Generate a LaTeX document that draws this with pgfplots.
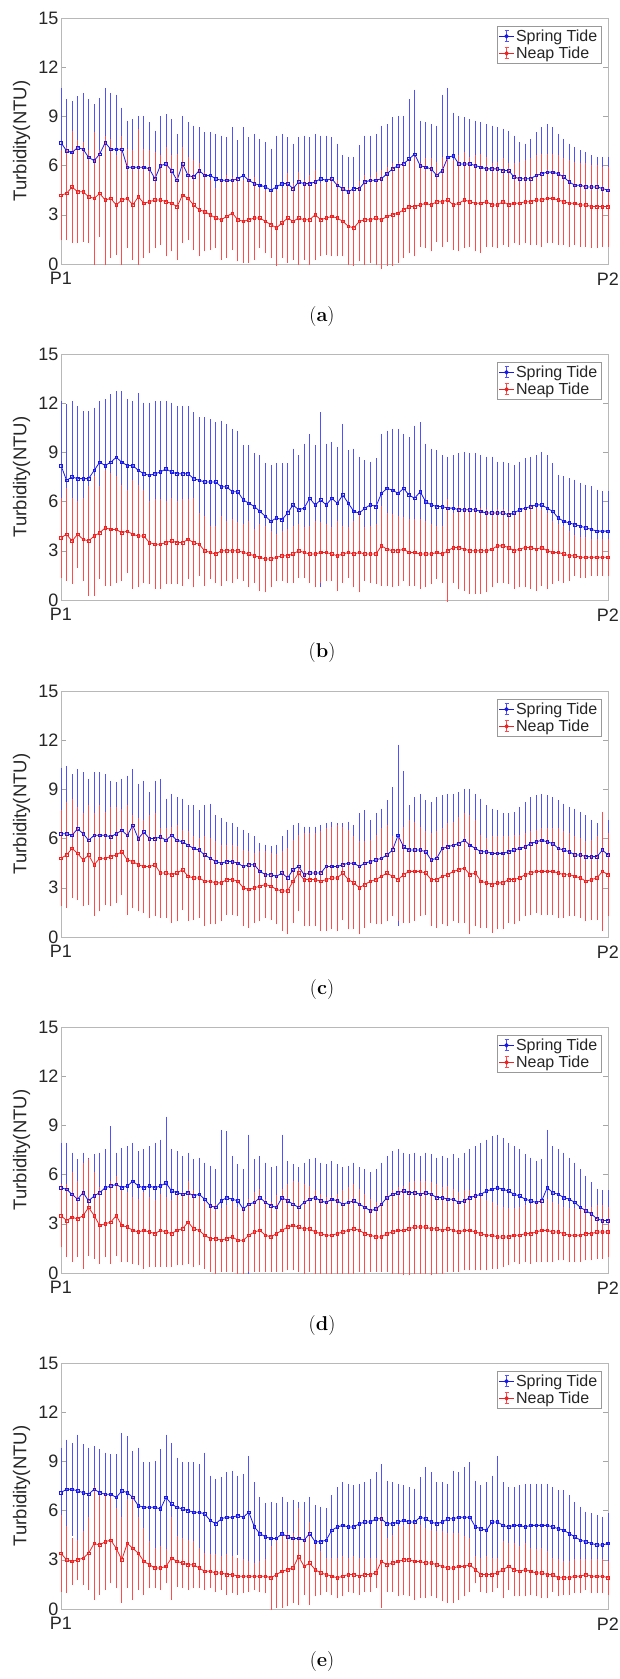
\documentclass[border=0pt]{standalone}
\usepackage{fontspec}
\setsansfont{Liberation Sans}
\usepackage{pgfplots}
\usepackage{pgfplotstable}
\pgfplotsset{compat=1.18}
\definecolor{sline}{RGB}{25,25,230}
\definecolor{sbar}{RGB}{80,80,255}
\definecolor{nline}{RGB}{235,35,35}
\definecolor{nbar}{RGB}{255,75,75}
\definecolor{txt}{RGB}{38,38,38}

\pgfplotstableread{
sm su nm nu
7.4 10.6 4.2 6.8
6.9 9.9 4.3 7.0
6.8 9.8 4.7 8.0
7.1 10.1 4.4 7.4
7.0 10.3 4.4 7.3
6.5 9.9 4.1 6.8
6.3 9.6 4.0 7.9
6.7 10.0 4.3 6.8
7.4 10.6 3.9 7.7
7.0 10.3 4.0 7.5
7.0 10.2 3.6 6.5
7.0 9.4 3.9 7.7
5.9 8.6 4.0 6.9
5.9 8.7 3.6 6.8
5.9 8.9 4.1 8.1
5.9 8.9 3.7 6.9
5.8 8.5 3.8 6.8
5.2 8.0 3.9 6.7
6.0 8.9 3.9 6.5
6.1 9.0 3.8 7.0
5.7 8.7 3.7 6.5
5.1 7.8 3.5 6.6
6.1 8.9 4.2 7.0
5.4 8.5 4.0 6.4
5.3 8.3 3.6 6.2
5.7 8.2 3.3 6.0
5.4 7.9 3.2 5.5
5.4 7.9 3.0 5.0
5.2 7.8 2.8 4.5
5.1 7.7 2.7 5.0
5.1 7.6 2.9 5.3
5.1 8.2 3.1 5.2
5.2 7.4 2.7 5.1
5.4 8.2 2.6 5.0
5.1 7.6 2.7 5.2
4.9 7.8 2.8 5.2
4.8 7.5 2.8 4.5
4.7 7.3 2.6 4.4
4.5 6.9 2.4 4.3
4.7 7.7 2.2 4.4
4.9 7.8 2.5 4.5
4.9 7.6 2.8 5.4
4.6 7.2 2.6 4.8
5.0 7.6 2.8 5.5
4.9 7.7 2.7 5.0
4.9 7.6 2.7 5.3
5.0 7.8 3.0 5.6
5.2 7.7 2.7 4.8
5.1 7.7 2.8 4.9
5.2 7.6 2.9 5.2
4.8 7.2 2.8 5.0
4.6 6.5 2.6 4.6
4.4 6.4 2.3 4.5
4.6 6.4 2.2 4.4
4.6 7.1 2.6 4.9
5.0 7.7 2.7 5.3
5.1 7.7 2.7 5.2
5.1 7.8 2.8 5.5
5.2 8.3 2.7 5.6
5.5 8.4 2.9 5.8
5.8 8.8 3.0 6.0
6.0 8.9 3.1 6.0
6.1 8.9 3.3 6.1
6.4 9.9 3.5 6.2
6.7 10.5 3.5 6.4
6.0 8.6 3.6 6.0
5.9 8.5 3.7 6.3
5.8 8.4 3.6 6.3
5.4 8.3 3.8 6.1
5.7 10.2 3.8 6.4
6.5 10.6 3.9 6.3
6.6 9.1 3.6 6.2
6.1 8.9 3.7 6.5
6.1 8.8 3.9 6.7
6.1 8.7 3.8 6.4
6.0 8.6 3.7 6.5
5.9 8.5 3.7 6.6
5.8 8.4 3.8 6.4
5.8 8.3 3.6 6.0
5.8 8.2 3.6 6.1
5.7 8.1 3.8 6.3
5.7 8.0 3.6 6.0
5.3 7.7 3.7 6.0
5.2 7.3 3.7 6.1
5.2 7.2 3.8 6.2
5.2 7.5 3.8 6.3
5.4 7.9 3.9 6.5
5.5 8.2 3.9 6.6
5.6 8.4 4.0 6.6
5.6 8.2 4.0 6.6
5.5 7.8 3.9 6.5
5.3 7.5 3.8 6.3
5.0 7.2 3.7 6.2
4.8 7.0 3.7 6.1
4.8 6.8 3.6 6.0
4.7 6.7 3.6 6.0
4.7 6.5 3.5 5.9
4.7 6.4 3.5 5.9
4.6 6.4 3.5 5.8
4.5 6.4 3.5 5.8
}\tabA

\pgfplotstableread{
sm su nm nu
8.2 12.0 3.8 6.1
7.3 11.8 4.0 6.7
7.5 12.0 3.6 6.1
7.4 11.7 4.0 5.9
7.4 11.4 3.7 6.1
7.4 11.4 3.6 6.8
7.9 11.6 3.9 7.4
8.4 12.0 4.1 6.8
8.2 12.1 4.4 7.8
8.4 12.4 4.3 7.6
8.7 12.6 4.3 7.4
8.4 12.6 4.1 6.9
8.2 12.1 4.2 6.6
8.2 12.0 4.0 7.2
7.9 12.5 3.9 6.9
7.7 11.9 3.9 6.6
7.6 11.9 3.5 5.9
7.7 12.0 3.4 6.0
7.8 12.0 3.4 6.0
8.0 12.0 3.5 5.9
7.8 11.9 3.6 6.1
7.7 11.7 3.5 5.9
7.7 11.7 3.5 6.0
7.7 11.7 3.7 6.0
7.4 11.3 3.5 6.1
7.3 11.0 3.4 5.2
7.2 11.0 3.0 5.0
7.2 10.9 2.9 4.4
7.2 10.7 2.8 4.4
6.9 10.8 3.0 5.0
6.9 10.6 3.0 4.7
6.6 10.3 3.0 4.8
6.6 10.2 3.0 4.6
6.1 9.3 2.9 4.5
5.9 9.3 2.8 4.7
5.7 8.8 2.7 4.2
5.4 8.7 2.6 4.5
5.1 8.2 2.5 4.4
4.8 8.1 2.5 4.1
5.0 8.2 2.6 3.9
4.9 8.2 2.7 4.1
5.3 8.2 2.7 4.2
5.8 9.1 2.8 4.4
5.5 8.7 3.0 4.5
5.6 9.4 2.9 4.3
6.2 10.0 2.8 4.4
5.8 9.3 2.8 4.7
6.1 11.3 2.9 4.6
5.8 9.4 2.9 4.5
6.2 9.5 2.8 4.3
5.9 9.2 2.7 4.7
6.4 10.6 2.8 4.4
5.9 9.0 2.9 4.3
5.4 9.1 2.8 4.7
5.3 8.6 2.9 5.2
5.6 8.4 2.8 4.3
5.8 8.3 2.8 4.4
5.7 8.5 2.8 4.5
6.5 10.0 3.3 5.6
6.8 10.2 3.1 5.2
6.7 10.3 3.0 5.1
6.5 10.3 3.0 5.0
6.8 10.0 3.1 4.9
6.4 9.8 2.9 4.8
6.2 10.5 2.9 4.8
6.6 10.7 2.8 4.8
6.0 9.4 2.8 4.7
5.8 9.1 2.8 4.5
5.7 9.0 2.9 4.4
5.7 8.7 2.8 4.4
5.6 8.6 3.0 6.0
5.6 8.7 3.2 5.2
5.5 8.8 3.2 5.6
5.5 8.9 3.1 5.5
5.5 8.8 3.0 5.5
5.5 8.8 3.0 5.5
5.4 8.7 3.0 5.5
5.3 8.6 3.0 5.4
5.3 8.6 3.1 5.3
5.3 8.3 3.3 5.4
5.3 8.3 3.3 5.4
5.2 8.2 3.2 5.3
5.3 8.1 3.0 5.2
5.5 8.3 3.1 5.3
5.6 8.5 3.2 5.5
5.7 8.6 3.2 5.6
5.8 8.7 3.1 5.5
5.8 8.9 3.2 5.4
5.6 8.7 3.0 5.2
5.4 8.2 2.9 4.7
5.0 7.5 2.9 4.5
4.8 7.4 2.8 4.4
4.7 7.3 2.7 4.1
4.6 7.2 2.7 3.8
4.5 7.0 2.6 3.7
4.4 6.9 2.6 3.7
4.3 6.8 2.6 3.6
4.2 6.6 2.6 3.6
4.2 6.5 2.6 3.6
4.2 6.5 2.6 3.6
}\tabB

\pgfplotstableread{
sm su nm nu
6.3 10.2 4.8 7.6
6.3 10.3 5.0 8.1
6.2 9.8 5.4 8.3
6.6 10.1 5.1 7.8
6.3 9.9 4.7 7.4
5.9 9.5 5.0 7.9
6.2 9.9 4.4 7.4
6.2 9.9 4.8 7.9
6.2 9.8 4.8 7.5
6.1 9.4 4.9 7.8
6.3 9.3 5.0 7.8
6.5 9.5 5.2 7.7
6.2 9.7 4.7 7.9
6.8 10.1 4.6 7.3
6.0 9.2 4.4 7.1
6.4 9.4 4.3 7.0
6.0 8.7 4.3 7.3
6.0 9.4 4.4 7.4
6.1 9.5 3.9 6.5
5.9 8.3 3.9 6.5
6.2 8.6 3.8 6.6
5.9 8.4 3.9 6.7
5.8 8.3 4.1 6.4
5.6 7.9 3.7 6.3
5.4 7.9 3.6 6.0
5.3 7.6 3.6 5.9
5.0 7.9 3.4 6.0
4.8 8.0 3.4 5.9
4.6 7.3 3.3 5.7
4.5 7.1 3.3 5.5
4.6 6.9 3.5 5.5
4.6 6.8 3.5 5.5
4.5 6.6 3.4 5.4
4.3 6.4 3.0 5.2
4.4 6.2 2.9 5.1
4.4 6.0 3.0 5.0
4.0 5.6 3.1 5.1
3.8 5.5 3.2 5.1
3.8 5.4 3.1 5.0
3.7 5.5 2.9 4.9
3.9 6.0 2.8 5.1
3.6 6.4 2.8 5.3
4.1 6.7 3.4 5.8
4.3 6.8 3.9 6.1
3.8 6.6 3.5 6.2
3.9 6.6 3.5 6.2
3.9 6.6 3.5 6.2
3.9 6.7 3.4 6.3
4.3 6.8 3.5 6.5
4.3 6.9 3.6 6.6
4.3 6.8 3.6 6.7
4.4 6.8 3.9 6.6
4.5 6.9 3.5 6.4
4.5 6.7 3.3 6.0
4.3 7.4 3.0 5.7
4.5 7.6 3.2 5.7
4.6 7.0 3.4 5.8
4.7 7.4 3.5 6.1
4.8 7.7 3.7 6.5
5.0 8.2 3.9 6.7
5.3 9.0 3.7 6.0
6.2 11.6 3.5 5.9
5.5 10.0 3.8 6.6
5.3 7.9 4.0 7.0
5.3 8.4 4.0 6.9
5.3 8.6 4.0 6.6
5.2 8.2 3.9 6.3
4.7 8.1 3.5 6.2
4.8 8.4 3.5 6.3
5.4 8.5 3.7 6.5
5.5 8.6 3.8 6.8
5.6 8.6 4.0 6.9
5.7 8.7 4.1 7.2
5.9 8.9 4.2 7.4
5.6 8.9 3.8 7.3
5.4 8.6 3.9 7.0
5.2 8.3 3.4 6.1
5.2 7.9 3.3 5.9
5.1 7.7 3.2 6.0
5.1 7.6 3.3 6.0
5.1 7.4 3.3 6.0
5.2 7.4 3.5 6.0
5.3 7.5 3.5 6.1
5.4 7.8 3.6 6.1
5.5 8.1 3.8 6.2
5.7 8.4 3.9 6.3
5.8 8.5 4.0 6.4
5.9 8.6 4.0 6.5
5.8 8.5 4.0 6.5
5.7 8.4 4.0 6.5
5.4 8.2 3.9 6.5
5.3 8.0 3.8 6.3
5.2 7.8 3.8 6.2
5.0 7.7 3.7 6.0
5.0 7.5 3.6 5.9
4.9 7.3 3.4 5.7
4.9 7.0 3.5 5.8
4.9 6.8 3.6 6.0
5.3 7.0 4.0 7.5
5.0 7.0 3.8 6.2
}\tabC

\pgfplotstableread{
sm su nm nu
5.2 7.8 3.5 5.3
5.1 7.8 3.2 5.3
4.8 7.2 3.4 6.0
4.5 6.8 3.3 5.5
4.9 7.2 3.5 6.6
4.4 6.9 4.0 6.8
4.7 7.1 3.5 6.0
4.9 7.2 2.9 5.1
5.2 7.4 3.0 4.9
5.3 8.8 3.1 5.5
5.4 7.2 3.5 5.8
5.2 7.5 2.9 5.0
5.3 7.6 2.8 4.8
5.6 7.8 2.6 4.5
5.3 7.3 2.5 4.4
5.2 7.4 2.6 4.8
5.3 7.6 2.5 4.5
5.2 7.8 2.4 4.3
5.3 8.0 2.6 4.7
5.5 9.4 2.5 4.5
5.0 7.4 2.4 4.3
4.9 7.3 2.6 4.6
4.8 7.0 2.7 4.8
4.9 7.2 3.1 5.5
4.7 6.8 2.7 4.9
4.8 6.9 2.6 4.6
4.5 6.6 2.3 4.2
4.1 6.4 2.1 4.0
4.0 6.2 2.1 4.1
4.4 8.6 2.0 3.8
4.6 8.5 2.1 4.0
4.5 7.0 2.2 4.2
4.4 6.5 2.0 3.9
3.9 6.2 2.0 3.9
4.2 8.3 2.3 4.4
4.3 6.8 2.5 4.8
4.6 7.0 2.6 5.0
4.3 6.6 2.3 4.4
4.1 6.3 2.2 4.2
4.0 6.4 2.4 4.6
4.6 8.3 2.6 5.0
4.4 6.7 2.8 5.3
4.2 6.5 2.9 5.5
4.0 6.3 2.8 5.4
4.3 6.6 2.7 5.3
4.5 6.8 2.7 5.2
4.6 6.9 2.5 4.9
4.4 6.6 2.4 4.7
4.3 6.5 2.3 4.5
4.5 6.7 2.3 4.5
4.4 6.5 2.4 4.7
4.2 6.3 2.5 4.9
4.3 6.4 2.6 5.1
4.4 6.6 2.7 5.3
4.2 6.3 2.6 5.0
4.0 6.2 2.4 4.7
3.8 6.0 2.3 4.4
3.9 6.2 2.2 4.2
4.2 6.6 2.2 4.2
4.6 7.0 2.4 4.6
4.8 7.3 2.5 4.9
4.9 7.4 2.6 5.1
5.0 7.2 2.6 5.2
4.9 7.1 2.7 5.4
4.9 7.2 2.8 5.5
4.8 7.0 2.8 5.5
4.9 7.2 2.8 5.5
4.8 7.1 2.7 5.4
4.6 6.9 2.7 5.3
4.6 7.0 2.6 5.1
4.5 6.9 2.7 5.2
4.5 7.1 2.6 5.0
4.3 6.9 2.5 4.8
4.4 7.2 2.6 4.9
4.6 7.4 2.6 4.9
4.7 7.6 2.5 4.7
4.8 7.8 2.4 4.5
5.0 8.0 2.3 4.3
5.1 8.2 2.3 4.2
5.2 8.3 2.2 4.0
5.1 8.1 2.2 3.9
5.0 7.8 2.2 3.8
4.8 7.6 2.3 3.8
4.7 7.4 2.3 3.9
4.5 7.1 2.4 4.0
4.4 6.9 2.4 4.1
4.3 6.7 2.5 4.2
4.4 6.8 2.6 4.4
5.2 8.6 2.6 4.4
4.9 7.6 2.5 4.2
4.8 7.4 2.5 4.1
4.6 7.2 2.4 3.9
4.5 6.9 2.3 3.8
4.3 6.6 2.3 3.8
4.0 6.2 2.3 3.8
3.8 5.8 2.4 3.9
3.6 5.4 2.4 3.9
3.3 5.0 2.5 4.0
3.2 4.9 2.5 4.0
3.2 4.9 2.5 3.9
}\tabD

\pgfplotstableread{
sm su nm nu
7.1 9.7 3.4 5.6
7.3 10.2 3.0 4.9
7.3 10.0 2.9 4.2
7.2 10.5 3.0 4.1
7.1 9.9 3.1 4.6
7.0 9.7 3.4 5.5
7.3 9.8 4.0 7.3
7.1 9.6 3.9 6.8
7.0 9.4 4.1 6.9
7.0 9.3 4.2 6.7
6.8 9.3 3.7 6.0
7.2 10.6 3.0 5.5
7.1 10.4 4.0 6.6
6.8 9.5 3.7 6.7
6.3 9.7 3.4 5.5
6.2 8.8 2.9 4.8
6.2 8.8 2.7 4.0
6.2 8.9 2.5 3.6
6.1 9.6 2.5 3.7
6.8 10.5 2.6 3.5
6.4 10.0 3.1 5.5
6.2 9.1 2.9 4.3
6.1 8.8 2.8 4.2
6.0 8.8 2.7 4.1
5.9 8.8 2.7 4.0
5.9 8.7 2.5 3.6
5.8 9.4 2.3 3.3
5.4 8.0 2.3 3.2
5.2 7.8 2.2 3.2
5.5 7.9 2.2 3.1
5.6 8.2 2.1 3.2
5.6 8.3 2.1 3.1
5.7 8.0 2.0 3.0
5.6 8.1 2.0 2.9
5.9 9.2 2.0 2.8
5.0 7.6 2.0 2.7
4.6 6.7 2.0 2.8
4.4 6.3 2.0 2.9
4.3 6.4 1.9 3.7
4.3 6.3 2.1 4.0
4.6 6.7 2.3 4.4
4.4 6.4 2.4 4.5
4.3 6.5 2.5 4.5
4.3 6.4 3.2 6.0
4.2 6.4 2.6 4.2
4.6 6.7 2.8 5.2
4.1 6.2 2.4 3.9
4.1 6.1 2.2 3.4
4.2 6.0 2.1 3.0
4.8 6.8 2.0 3.0
5.0 7.3 1.9 3.0
5.1 7.6 2.0 3.1
5.0 7.5 2.1 3.0
5.0 7.4 2.1 3.1
5.2 7.5 2.0 3.0
5.3 7.6 2.1 3.0
5.3 7.8 2.1 3.0
5.5 8.2 2.2 3.0
5.5 8.7 2.9 5.6
5.2 7.7 2.7 4.2
5.2 7.6 2.8 4.4
5.3 7.5 2.9 4.9
5.4 7.4 3.0 5.0
5.3 7.3 3.0 5.1
5.3 7.2 2.9 5.1
5.6 7.9 2.9 5.0
5.5 8.5 2.8 4.8
5.3 8.2 2.8 4.7
5.2 7.6 2.7 4.6
5.3 7.6 2.6 4.6
5.5 7.5 2.5 4.5
5.5 8.3 2.5 4.5
5.6 8.2 2.6 4.5
5.6 8.5 2.6 4.3
5.6 8.8 2.7 4.2
5.0 7.7 2.4 3.1
4.9 7.4 2.1 3.0
4.8 7.6 2.1 3.1
5.3 8.0 2.1 3.0
5.3 9.2 2.2 3.0
5.1 7.6 2.4 4.0
5.0 7.3 2.6 3.9
5.1 7.3 2.4 3.9
5.1 7.4 2.3 3.7
5.0 7.5 2.4 3.9
5.1 7.5 2.3 3.6
5.1 7.5 2.2 3.5
5.1 7.5 2.2 3.6
5.1 7.5 2.1 3.4
5.0 7.3 2.1 3.0
4.9 7.1 1.9 2.9
4.8 7.1 1.9 2.8
4.6 6.8 1.9 2.8
4.4 6.4 2.0 2.9
4.2 6.1 2.0 2.9
4.1 5.8 2.1 2.9
4.0 5.7 2.0 2.9
3.9 5.6 2.0 2.9
3.9 5.5 2.0 2.9
4.0 5.7 1.9 2.8
}\tabE

\pgfplotsset{
  panel/.style={
    scale only axis, width=547pt, height=246pt, anchor=south west,
    xmin=0, xmax=99, ymin=0, ymax=15,
    ytick={0,3,6,9,12,15}, xtick={0,99}, xticklabels={P1,P2},
    axis line style={draw=black!28},
    tick align=inside, major tick length=5pt,
    ytick style={draw=black!35},
    xtick style={draw=none},
    tick label style={font=\sffamily\fontsize{18}{20}\selectfont, text=txt},
    /pgf/number format/assume math mode=true,
    ylabel={Turbidity(NTU)},
    label style={font=\sffamily\fontsize{18.5}{20}\selectfont, text=txt},
    ylabel style={at={(axis description cs:-0.072,0.5)}, anchor=center},
    yticklabel style={xshift=1pt},
    xticklabel style={yshift=-5pt},
    clip=false,
    legend style={at={(rel axis cs:1,1)}, anchor=north east, xshift=-7pt, yshift=-8pt,
      draw=black!40, font=\sffamily\fontsize{16}{17}\selectfont, inner sep=1.5pt,
      row sep=0pt, text=txt},
    legend cell align=left,
  },
  spring/.style={color=sline, line width=0.8pt, mark=square, mark size=1.3pt,
    mark options={line width=0.6pt, fill=none, solid},
    legend image code/.code={
      \draw[sbar, line width=0.8pt] (0.25cm,-5.5pt) -- (0.25cm,5.5pt);
      \draw[sbar, line width=0.8pt] (0.25cm-2pt,-5.5pt) -- (0.25cm+2pt,-5.5pt);
      \draw[sbar, line width=0.8pt] (0.25cm-2pt,5.5pt) -- (0.25cm+2pt,5.5pt);
      \draw[sline, line width=0.8pt] (0cm,0pt) -- (0.5cm,0pt);
      \fill[sline] (0.25cm,0pt) circle (1.8pt);
    },
    error bars/.cd, y dir=both, y explicit,
    error bar style={color=sbar, line width=0.85pt},
    error mark options={color=sbar, line width=0.85pt, mark size=2.2pt}},
  neap/.style={color=nline, line width=0.8pt, mark=square, mark size=1.3pt,
    mark options={line width=0.6pt, fill=none, solid},
    legend image code/.code={
      \draw[nbar, line width=0.8pt] (0.25cm,-5.5pt) -- (0.25cm,5.5pt);
      \draw[nbar, line width=0.8pt] (0.25cm-2pt,-5.5pt) -- (0.25cm+2pt,-5.5pt);
      \draw[nbar, line width=0.8pt] (0.25cm-2pt,5.5pt) -- (0.25cm+2pt,5.5pt);
      \draw[nline, line width=0.8pt] (0cm,0pt) -- (0.5cm,0pt);
      \fill[nline] (0.25cm,0pt) circle (1.8pt);
    },
    error bars/.cd, y dir=both, y explicit,
    error bar style={color=nbar, line width=0.85pt},
    error mark options={color=nbar, line width=0.85pt, mark size=2.2pt}},
}

\newcommand{\panel}[2]{%
  \begin{axis}[panel, at={(61pt,#2)}]
    \addplot[spring] table[x expr=\coordindex, y=sm, y error expr=\thisrow{su}-\thisrow{sm}] {#1};
    \addlegendentry{Spring Tide}
    \addplot[neap] table[x expr=\coordindex, y=nm, y error expr=\thisrow{nu}-\thisrow{nm}] {#1};
    \addlegendentry{Neap Tide}
  \end{axis}}

\begin{document}
\begin{tikzpicture}
\path[use as bounding box] (0,0) rectangle (619pt,1679pt);
\panel{\tabA}{1415pt}
\panel{\tabB}{1079pt}
\panel{\tabC}{742pt}
\panel{\tabD}{406pt}
\panel{\tabE}{70pt}
\node[font=\fontsize{20}{22}\selectfont] at (322pt,1362pt) {(\textbf{a})};
\node[font=\fontsize{20}{22}\selectfont] at (322pt,1026pt) {(\textbf{b})};
\node[font=\fontsize{20}{22}\selectfont] at (322pt,689pt) {(\textbf{c})};
\node[font=\fontsize{20}{22}\selectfont] at (322pt,353pt) {(\textbf{d})};
\node[font=\fontsize{20}{22}\selectfont] at (322pt,17pt) {(\textbf{e})};
\end{tikzpicture}
\end{document}
